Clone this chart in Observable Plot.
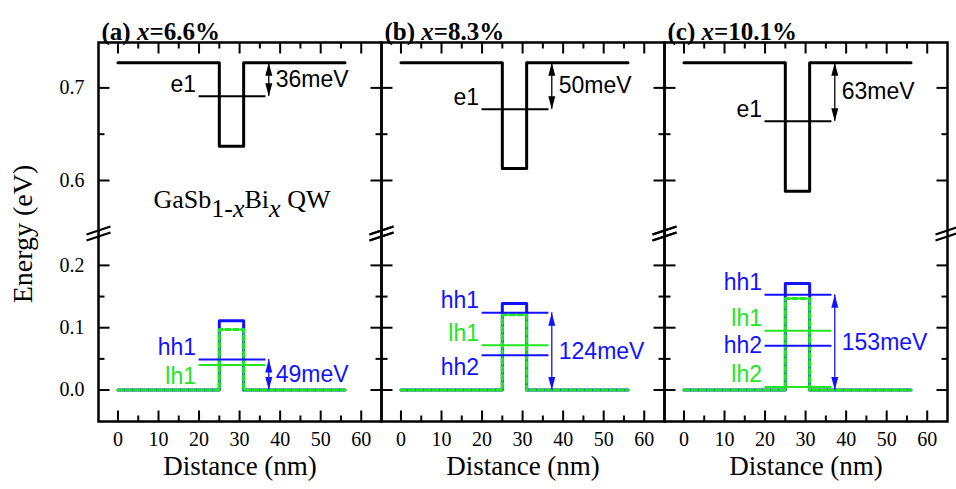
<!DOCTYPE html>
<html><head><meta charset="utf-8">
<script src="https://cdn.jsdelivr.net/npm/d3@7"></script>
<script src="https://cdn.jsdelivr.net/npm/@observablehq/plot@0.6"></script>
<style>body{margin:0;background:#fff}</style>
</head><body><div id="chart"></div>
<script>
// ---------- data ----------
const panels = ["a", "b", "c"];
const compositions = ["6.6%", "8.3%", "10.1%"];
const barrierExtent = [0, 56];          // nm
const wellEdges = [25, 31];             // nm
const levelExtent = [20, 36.5];         // nm, drawn extent of sub-band levels
const arrowDistance = 37.2;             // nm
const cbBarrier = [0.727, 0.727, 0.727];   // eV
const cbWell = [0.637, 0.613, 0.5885];     // eV
const hhWell = [0.111, 0.139, 0.171];      // eV
const lhWell = [0.097, 0.121, 0.147];      // eV
const vbBarrier = [0, 0, 0];               // eV
const e1Depth = [36, 50, 63];              // meV below CB
const hh1 = [49, 124, 153];                // meV
const lh1 = [40, 72, 95];
const hh2 = [null, 56, 71];
const lh2 = [null, null, 5];
const distanceTicks = [0, 10, 20, 30, 40, 50, 60];
const distanceMinor = [5, 15, 25, 35, 45, 55];
const energyTicks = [0, 0.1, 0.2, 0.6, 0.7];
const energyMinor = [0.05, 0.15, 0.65];
const energyBreak = [0.256, 0.546];
const energyDomain = [-0.0505, 0.749];
const materialLabel = "GaSb1-xBix QW";

// ---------- styles ----------
const BLUE = "#1212ff", GREEN = "#22e622", BLACK = "#000";
const SERIF = "'Liberation Serif', 'Times New Roman', serif";
const SANS = "'Liberation Sans', Arial, sans-serif";

// ---------- derived tables ----------
function profile(barrierE, wellE) {
  return [
    [barrierExtent[0], barrierE], [wellEdges[0], barrierE], [wellEdges[0], wellE],
    [wellEdges[1], wellE], [wellEdges[1], barrierE], [barrierExtent[1], barrierE]
  ];
}
const cbRows = [], hhRows = [], lhRows = [];
panels.forEach((p, i) => {
  profile(cbBarrier[i], cbWell[i]).forEach(([x, y]) => cbRows.push({panel: p, x, y}));
  profile(vbBarrier[i], hhWell[i]).forEach(([x, y]) => hhRows.push({panel: p, x, y}));
  profile(vbBarrier[i], lhWell[i]).forEach(([x, y]) => lhRows.push({panel: p, x, y}));
});
const levels = [];
panels.forEach((p, i) => {
  levels.push({panel: p, band: "e", name: "e1", E: cbBarrier[i] - e1Depth[i] / 1000});
  [["hh1", hh1], ["lh1", lh1], ["hh2", hh2], ["lh2", lh2]].forEach(([name, arr]) => {
    if (arr[i] != null) levels.push({panel: p, band: name.slice(0, 2), name, E: arr[i] / 1000});
  });
});
levels.forEach(d => { d.x1 = levelExtent[0]; d.x2 = levelExtent[1]; });
const arrows = [];
panels.forEach((p, i) => {
  arrows.push({panel: p, kind: "cb", x: arrowDistance, top: cbBarrier[i], bottom: cbBarrier[i] - e1Depth[i] / 1000, meV: e1Depth[i]});
  arrows.push({panel: p, kind: "vb", x: arrowDistance, top: hh1[i] / 1000, bottom: vbBarrier[i], meV: hh1[i]});
});
const placement = {"a-lh1": "below", "b-hh2": "below", "c-hh2": "middle"};
const place = d => placement[d.panel + "-" + d.name] || "above";

// ---------- custom symbols ----------
const seg = (pts) => ({draw(ctx) { for (let k = 0; k < pts.length; k += 4) { ctx.moveTo(pts[k], pts[k+1]); ctx.lineTo(pts[k+2], pts[k+3]); } }});
const tri = (dir) => ({draw(ctx) { ctx.moveTo(0, 0); ctx.lineTo(-3.5, 13 * dir); ctx.lineTo(3.5, 13 * dir); ctx.closePath(); }});
const headUp = tri(1), headDown = tri(-1);
const T = {
  left: [seg([0,0,11,0]), seg([0,0,6,0])],
  right: [seg([0,0,-11,0]), seg([0,0,-6,0])],
  bottom: [seg([0,0,0,-11]), seg([0,0,0,-6])],
  top: [seg([0,0,0,11]), seg([0,0,0,6])]
};
const breakSym = seg([-12, 4, 12, -4, -12, 10, 12, 2]);

const tickStyle = {stroke: BLACK, strokeWidth: 2, fill: "none"};
const marks = [];
// ticks
for (const side of ["bottom", "top"]) {
  marks.push(Plot.dot(distanceTicks, {x: d => d, frameAnchor: side, symbol: T[side][0], ...tickStyle}));
  marks.push(Plot.dot(distanceMinor, {x: d => d, frameAnchor: side, symbol: T[side][1], ...tickStyle}));
}
for (const side of ["left", "right"]) {
  marks.push(Plot.dot(energyTicks, {y: d => d, frameAnchor: side, symbol: T[side][0], ...tickStyle}));
  marks.push(Plot.dot(energyMinor, {y: d => d, frameAnchor: side, symbol: T[side][1], ...tickStyle}));
  marks.push(Plot.dot([energyBreak[0]], {y: d => d, frameAnchor: side, symbol: breakSym, ...tickStyle}));
}
marks.push(Plot.frame({stroke: BLACK, strokeWidth: 2.5}));
// profiles
marks.push(Plot.line(cbRows, {x: "x", y: "y", fx: "panel", z: "panel", stroke: BLACK, strokeWidth: 3}));
marks.push(Plot.line(hhRows, {x: "x", y: "y", fx: "panel", z: "panel", stroke: BLUE, strokeWidth: 3}));
marks.push(Plot.line(lhRows, {x: "x", y: "y", fx: "panel", z: "panel", stroke: GREEN, strokeWidth: 3, strokeDasharray: "5,3"}));
// levels
const bandColor = {e: BLACK, hh: BLUE, lh: GREEN};
for (const band of ["e", "lh", "hh"]) {
  const rows = levels.filter(d => d.band === band);
  marks.push(Plot.ruleY(rows, {x1: "x1", x2: "x2", y: "E", fx: "panel", stroke: bandColor[band], strokeWidth: 2}));
  for (const [pos, dy] of [["above", -12], ["below", 12], ["middle", 0]]) {
    marks.push(Plot.text(rows.filter(d => place(d) === pos), {
      x: "x1", y: "E", fx: "panel", text: "name", textAnchor: "end", dx: -3, dy,
      fill: bandColor[band], fontFamily: SANS, fontSize: 23
    }));
  }
}
// arrows
for (const kind of ["cb", "vb"]) {
  const rows = arrows.filter(d => d.kind === kind);
  const color = kind === "cb" ? BLACK : BLUE;
  marks.push(Plot.ruleX(rows, {x: "x", y1: "top", y2: "bottom", fx: "panel", stroke: color, strokeWidth: 1.3}));
  marks.push(Plot.dot(rows, {x: "x", y: "top", fx: "panel", symbol: headUp, fill: color, stroke: "none"}));
  marks.push(Plot.dot(rows, {x: "x", y: "bottom", fx: "panel", symbol: headDown, fill: color, stroke: "none"}));
  marks.push(Plot.text(rows, {x: "x", y: d => (d.top + d.bottom) / 2, fx: "panel", text: d => d.meV + "meV",
    textAnchor: "start", dx: 7, fill: color, fontFamily: SANS, fontSize: 23}));
}
// axis labels
marks.push(Plot.text(energyTicks, {y: d => d, fx: () => "a", text: d => d.toFixed(1), frameAnchor: "left",
  dx: -14, textAnchor: "end", fontFamily: SERIF, fontSize: 20, fill: BLACK}));
marks.push(Plot.text(distanceTicks, {x: d => d, text: d => String(d), frameAnchor: "bottom", dy: 24,
  fontFamily: SERIF, fontSize: 20, fill: BLACK}));
marks.push(Plot.text(panels, {fx: d => d, text: () => "Distance (nm)", frameAnchor: "bottom", dy: 53,
  fontFamily: SERIF, fontSize: 27, fill: BLACK}));
marks.push(Plot.text(["Energy (eV)"], {fx: () => "a", text: d => d, frameAnchor: "left", textAnchor: "middle",
  rotate: -90, dx: -75, dy: 2, fontFamily: SERIF, fontSize: 28, fill: BLACK}));
marks.push(Plot.text(panels, {fx: d => d, text: (d, i) => `(${d}) x=${compositions[i]}`, frameAnchor: "top-left",
  dx: 3, dy: -20, textAnchor: "start", fontFamily: SERIF, fontWeight: "bold", fontSize: 25, fill: BLACK}));
marks.push(Plot.text([materialLabel], {fx: () => "a", text: d => d, frameAnchor: "top-left", dx: 55, dy: 147,
  textAnchor: "start", fontFamily: SERIF, fontSize: 26, fill: BLACK}));

const chart = Plot.plot({
  width: 956, height: 489,
  marginLeft: 98, marginRight: 9, marginTop: 42, marginBottom: 68,
  style: {background: "#fff", overflow: "visible"},
  fx: {domain: panels, padding: 0, axis: null, label: null},
  x: {domain: [-4.8, 65], axis: null},
  y: {type: "linear", domain: [energyDomain[0], energyBreak[0], energyBreak[1], energyDomain[1]],
      range: [421, 230, 230, 42], axis: null},
  marks
});

// rich text: italic x and subscripts
d3.select(chart).selectAll("text").each(function () {
  const t = this.textContent;
  const el = d3.select(this);
  let m = t.match(/^\(([abc])\) x=(.*)$/);
  if (m) {
    el.text(null);
    el.append("tspan").text(`(${m[1]}) `);
    el.append("tspan").attr("font-style", "italic").text("x");
    el.append("tspan").text("=" + m[2]);
  } else if (t === materialLabel) {
    el.text(null);
    el.append("tspan").text("GaSb");
    el.append("tspan").attr("dy", 9).text("1-");
    el.append("tspan").attr("font-style", "italic").text("x");
    el.append("tspan").attr("dy", -9).text("Bi");
    el.append("tspan").attr("dy", 9).attr("font-style", "italic").text("x");
    el.append("tspan").attr("dy", -9).text(" QW");
  }
});
document.getElementById("chart").appendChild(chart);
</script>
</body></html>
